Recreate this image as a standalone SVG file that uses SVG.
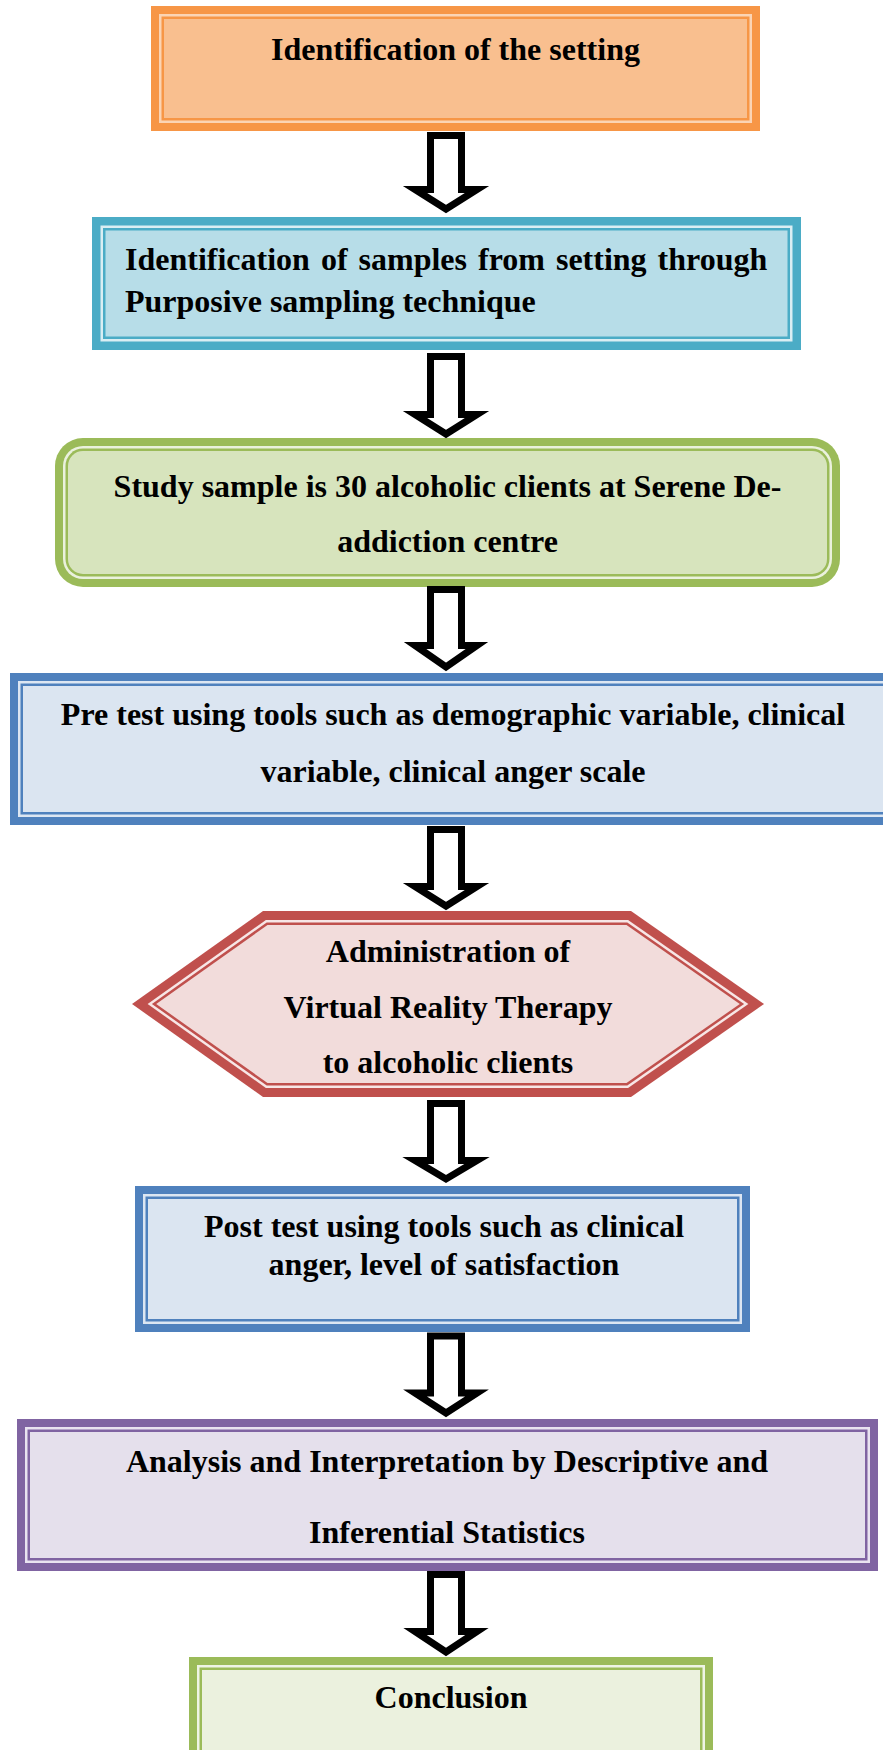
<svg xmlns="http://www.w3.org/2000/svg" width="883" height="1750" viewBox="0 0 883 1750">
<style>
  text { font-family: "Liberation Serif", "Times New Roman", serif; font-weight: bold; font-size: 32px; fill: #000; }
  .c { text-anchor: middle; }
  .arrow { fill: #fff; stroke: #000; stroke-width: 7; stroke-linejoin: miter; stroke-miterlimit: 10; }
</style>
<rect x="0" y="0" width="883" height="1750" fill="#fff"/>

<g id="node1">
  <rect x="151" y="6" width="609" height="125" fill="#F79646"/>
  <rect x="159" y="14" width="593" height="109" fill="#FBD4B4"/>
  <rect x="161.5" y="16.5" width="588" height="104" fill="#F79646"/>
  <rect x="164" y="19" width="583" height="99" fill="#F9BF8F"/>
  <text class="c" x="455.5" y="60">Identification of the setting</text>
</g>

<g id="node2">
  <rect x="92" y="217" width="709" height="133" fill="#4BACC6"/>
  <rect x="100.5" y="225.5" width="692" height="116" fill="#DAEEF3"/>
  <rect x="103" y="228" width="687" height="111" fill="#4BACC6"/>
  <rect x="105.5" y="230.5" width="682" height="106" fill="#B7DDE8"/>
  <text x="125" y="270" word-spacing="3">Identification of samples from setting through</text>
  <text x="125" y="312">Purposive sampling technique</text>
</g>

<g id="node3">
  <rect x="55" y="438" width="785" height="149" rx="28" ry="28" fill="#9BBB59"/>
  <rect x="63" y="446" width="769" height="133" rx="20" ry="20" fill="#EAF1DD"/>
  <rect x="65.5" y="448.5" width="764" height="128" rx="17.5" ry="17.5" fill="#9BBB59"/>
  <rect x="68" y="451" width="759" height="123" rx="15" ry="15" fill="#D7E4BD"/>
  <text class="c" x="447.5" y="497">Study sample is 30 alcoholic clients at Serene De-</text>
  <text class="c" x="447.5" y="552">addiction centre</text>
</g>

<g id="node4">
  <rect x="10" y="673" width="890" height="152" fill="#4F81BD"/>
  <rect x="18" y="681" width="874" height="136" fill="#DCE6F2"/>
  <rect x="20.5" y="683.5" width="869" height="131" fill="#4F81BD"/>
  <rect x="23" y="686" width="864" height="126" fill="#DBE5F1"/>
  <text class="c" x="453" y="725">Pre test using tools such as demographic variable, clinical</text>
  <text class="c" x="453" y="782">variable, clinical anger scale</text>
</g>

<g id="node5">
  <polygon points="132,1004 263,911 631,911 764,1004 631,1097 263,1097" fill="#C0504D"/>
  <polygon points="147.6,1004 265.9,920 628.1,920 748.4,1004 628.1,1088 265.9,1088" fill="#F7E6E6"/>
  <polygon points="151.9,1004 266.7,922.5 627.3,922.5 744.1,1004 627.3,1085.5 266.7,1085.5" fill="#C0504D"/>
  <polygon points="156.2,1004 267.5,925 626.5,925 739.8,1004 626.5,1083 267.5,1083" fill="#F2DCDB"/>
  <text class="c" x="448" y="962">Administration of</text>
  <text class="c" x="448" y="1018">Virtual Reality Therapy</text>
  <text class="c" x="448" y="1073">to alcoholic clients</text>
</g>

<g id="node6">
  <rect x="135" y="1186" width="615" height="146" fill="#4F81BD"/>
  <rect x="143" y="1194" width="599" height="130" fill="#DCE6F2"/>
  <rect x="145.5" y="1196.5" width="594" height="125" fill="#4F81BD"/>
  <rect x="148" y="1199" width="589" height="120" fill="#DBE5F1"/>
  <text class="c" x="444" y="1237">Post test using tools such as clinical</text>
  <text class="c" x="444" y="1275">anger, level of satisfaction</text>
</g>

<g id="node7">
  <rect x="17" y="1419" width="861" height="152" fill="#8064A2"/>
  <rect x="25" y="1427" width="845" height="136" fill="#E9E3F0"/>
  <rect x="27.5" y="1429.5" width="840" height="131" fill="#8064A2"/>
  <rect x="30" y="1432" width="835" height="126" fill="#E5E0EC"/>
  <text class="c" x="447" y="1472">Analysis and Interpretation by Descriptive and</text>
  <text class="c" x="447" y="1543">Inferential Statistics</text>
</g>

<g id="node8">
  <rect x="189" y="1657" width="524" height="110" fill="#9BBB59"/>
  <rect x="197" y="1665" width="508" height="110" fill="#EEF4E4"/>
  <rect x="199.5" y="1667.5" width="503" height="110" fill="#9BBB59"/>
  <rect x="202" y="1670" width="498" height="110" fill="#EBF1DE"/>
  <text class="c" x="451" y="1708">Conclusion</text>
</g>

<g id="connectors">
  <path class="arrow" d="M430.5,135.5 H461.5 V189.5 H477 L446,209 L415,189.5 H430.5 Z"/>
  <path class="arrow" d="M430.5,356.5 H461.5 V414.5 H477 L446,434 L415,414.5 H430.5 Z"/>
  <path class="arrow" d="M430.5,589.5 H461.5 V645.5 H477 L446,667 L415,645.5 H430.5 Z"/>
  <path class="arrow" d="M430.5,829.5 H461.5 V886.5 H477 L446,906 L415,886.5 H430.5 Z"/>
  <path class="arrow" d="M430.5,1103.5 H461.5 V1160.5 H477 L446,1179 L415,1160.5 H430.5 Z"/>
  <path class="arrow" d="M430.5,1336 H461.5 V1393 H477 L446,1413 L415,1393 H430.5 Z"/>
  <path class="arrow" d="M430.5,1574.5 H461.5 V1631.5 H477 L446,1652 L415,1631.5 H430.5 Z"/>
</g>
</svg>
